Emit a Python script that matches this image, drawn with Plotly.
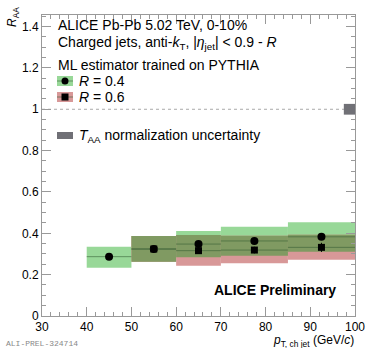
import plotly.graph_objects as go

# ---- data ----
lo_04 = [40, 50, 60, 70, 85]
hi_04 = [50, 60, 70, 85, 100]
x_04 = [45, 55, 65, 77.5, 92.5]
y_04 = [0.287, 0.324, 0.348, 0.363, 0.383]
sys_lo_04 = [0.234, 0.263, 0.284, 0.292, 0.311]
sys_hi_04 = [0.335, 0.387, 0.411, 0.432, 0.453]
stat_04 = [0.008, 0.008, 0.010, 0.012, 0.014]

lo_06 = [50, 60, 70, 85]
hi_06 = [60, 70, 85, 100]
x_06 = [55, 65, 77.5, 92.5]
y_06 = [0.324, 0.316, 0.319, 0.332]
sys_lo_06 = [0.263, 0.243, 0.255, 0.272]
sys_hi_06 = [0.387, 0.392, 0.388, 0.393]
stat_06 = [0.008, 0.012, 0.016, 0.022]

taa_x = [97.5, 100]
taa_unc = 0.026

x_ticks = [30, 40, 50, 60, 70, 80, 90, 100]
y_ticks = [0, 0.2, 0.4, 0.6, 0.8, 1, 1.2, 1.4]

GREEN = "rgb(152,216,152)"
RED = "rgb(216,152,152)"
OLIVE = "rgb(128,154,98)"
FONT = "Liberation Sans, Arial, sans-serif"

fig = go.Figure()
shapes = []

for a, b, l, h in zip(lo_04, hi_04, sys_lo_04, sys_hi_04):
    shapes.append(dict(type="rect", xref="x", yref="y", x0=a, x1=b, y0=l, y1=h,
                       fillcolor=GREEN, line=dict(width=0), layer="below"))
for a, b, l, h in zip(lo_06, hi_06, sys_lo_06, sys_hi_06):
    shapes.append(dict(type="rect", xref="x", yref="y", x0=a, x1=b, y0=l, y1=h,
                       fillcolor=RED, line=dict(width=0), layer="below"))
# overlap of the two uncertainty boxes
for a, b, l, h in zip(lo_06, hi_06, sys_lo_06, sys_hi_06):
    if a in lo_04:
        i = lo_04.index(a)
        ol = max(l, sys_lo_04[i]); oh = min(h, sys_hi_04[i])
        if oh > ol:
            shapes.append(dict(type="rect", xref="x", yref="y", x0=a, x1=b, y0=ol, y1=oh,
                               fillcolor=OLIVE, line=dict(width=0), layer="below"))

# dashed line at 1
shapes.append(dict(type="line", xref="paper", yref="y", x0=0, x1=1, y0=1, y1=1,
                   line=dict(color="#aaaaaa", width=1, dash="3px,3px"), layer="below"))
# TAA box
shapes.append(dict(type="rect", xref="x", yref="y", x0=taa_x[0], x1=taa_x[1],
                   y0=1 - taa_unc, y1=1 + taa_unc, fillcolor="rgb(112,112,118)",
                   line=dict(width=0)))

# x-error lines + markers
fig.add_trace(go.Scatter(
    x=x_04, y=y_04, mode="markers",
    marker=dict(symbol="circle", size=8, color="black"),
    error_x=dict(type="data", array=[(b - a) / 2 for a, b in zip(lo_04, hi_04)],
                 width=0, thickness=1, color="rgba(50,90,50,0.55)"),
    error_y=dict(type="data", array=stat_04, width=0, thickness=1, color="black"),
    showlegend=False))
fig.add_trace(go.Scatter(
    x=x_06, y=y_06, mode="markers",
    marker=dict(symbol="square", size=7, color="black"),
    error_x=dict(type="data", array=[(b - a) / 2 for a, b in zip(lo_06, hi_06)],
                 width=0, thickness=1, color="rgba(50,90,50,0.55)"),
    error_y=dict(type="data", array=stat_06, width=0, thickness=1, color="black"),
    showlegend=False))

# ---- legend (paper/pixel) ----
L, T, W, H = 42, 15, 313, 301
def px(xp): return (xp - L) / W
def py(yp): return 1 - (yp - T) / H

for yc, col, sym in [(81, GREEN, "circle"), (97, RED, "rect")]:
    shapes.append(dict(type="rect", xref="paper", yref="paper",
                       x0=px(57), x1=px(73), y0=py(yc + 5), y1=py(yc - 5),
                       fillcolor=col, line=dict(width=0)))
    shapes.append(dict(type="line", xref="paper", yref="paper",
                       x0=px(57), x1=px(73), y0=py(yc), y1=py(yc),
                       line=dict(color="rgba(50,90,50,0.55)", width=1)))
    shapes.append(dict(type=sym, xref="paper", yref="paper",
                       x0=px(65 - 3.5), x1=px(65 + 3.5), y0=py(yc + 3.5), y1=py(yc - 3.5),
                       fillcolor="black", line=dict(width=0)))
shapes.append(dict(type="rect", xref="paper", yref="paper",
                   x0=px(57), x1=px(73), y0=py(139), y1=py(132),
                   fillcolor="rgb(112,112,118)", line=dict(width=0)))

ann = []
def txt(x, y, s, size=14, xanchor="left", **kw):
    ann.append(dict(xref="paper", yref="paper", x=px(x), y=py(y), text=s, showarrow=False,
                    xanchor=xanchor, yanchor="middle", font=dict(family=FONT, size=size, color="black"), **kw))

txt(56, 25, "ALICE Pb-Pb 5.02 TeV, 0-10%")
txt(56, 43, "Charged jets, anti-<i>k</i><sub>T</sub>, |<i>η</i><sub>jet</sub>| &lt; 0.9 - <i>R</i>")
txt(56, 65, "ML estimator trained on PYTHIA")
txt(77, 81, "<i>R</i> = 0.4")
txt(77, 97, "<i>R</i> = 0.6")
txt(77, 136, "<i>T</i><sub>AA</sub> normalization uncertainty")
ann.append(dict(xref="paper", yref="paper", x=px(338), y=py(290), text="<b>ALICE Preliminary</b>",
                showarrow=False, xanchor="right", yanchor="middle",
                font=dict(family=FONT, size=14, color="black")))
ann.append(dict(xref="paper", yref="paper", x=px(356), y=py(340.5),
                text="<i>p</i><sub>T, ch jet</sub> (GeV/<i>c</i>)", showarrow=False,
                xanchor="right", yanchor="middle", font=dict(family=FONT, size=12, color="black")))
ann.append(dict(xref="paper", yref="paper", x=px(13), y=py(5),
                text="<i>R</i><sub>AA</sub>", textangle=-90, showarrow=False,
                xanchor="center", yanchor="top", font=dict(family=FONT, size=12, color="black")))
ann.append(dict(xref="paper", yref="paper", x=px(4), y=py(343), text="ALI-PREL-324714",
                showarrow=False, xanchor="left", yanchor="middle",
                font=dict(family="Liberation Mono, monospace", size=8, color="#888888")))

axis_common = dict(showline=True, linecolor="#999999", linewidth=1, mirror="allticks",
                   ticks="inside", ticklen=9, tickcolor="#999999", showgrid=False, zeroline=False,
                   automargin=False,
                   tickfont=dict(family=FONT, size=12, color="black"))
fig.update_layout(
    width=366, height=348, margin=dict(l=L, r=366 - L - W, t=T, b=348 - T - H),
    paper_bgcolor="white", plot_bgcolor="white",
    xaxis=dict(range=[30, 100], tickvals=x_ticks, ticktext=[str(v) for v in x_ticks],
               minor=dict(ticks="inside", ticklen=4, dtick=2, tickcolor="#999999"), **axis_common),
    yaxis=dict(range=[0, 1.456], tickvals=y_ticks, ticktext=[f"{v:g}" for v in y_ticks],
               minor=dict(ticks="inside", ticklen=4, dtick=0.05, tickcolor="#999999"), **axis_common),
    shapes=shapes, annotations=ann, showlegend=False,
)
fig.write_html("out.html")
